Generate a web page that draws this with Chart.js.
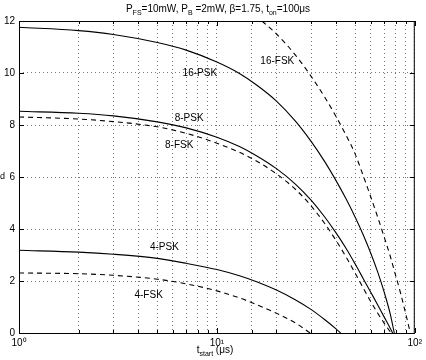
<!DOCTYPE html>
<html><head><meta charset="utf-8">
<script src="https://cdn.jsdelivr.net/npm/chart.js@4"></script>
<style>html,body{margin:0;padding:0;background:#fff}#wrap{width:426px;height:360px;position:relative}</style>
</head><body><div id="wrap"><canvas id="c"></canvas></div>
<script>
// ---- data ----
const xDecadeLabels = {1: '10⁰', 10: '10¹', 100: '10²'};
const yTickValues = [0, 2, 4, 6, 8, 10, 12];

const psk16T = [1, 2, 3, 5, 7, 10, 13, 16, 20, 25, 30, 35, 40, 45, 50, 55, 60, 65, 70, 75, 78.8];
const psk16V = [11.76, 11.63, 11.48, 11.17, 10.88, 10.42, 9.98, 9.52, 8.92, 8.14, 7.36, 6.6, 5.86, 5.15, 4.45, 3.76, 3.06, 2.34, 1.58, 0.76, 0];

const fsk16T = [16.9, 20, 25, 30, 35, 40, 45, 50, 55, 60, 65, 70, 75, 80, 85, 90, 95];
const fsk16V = [12, 11.5, 10.68, 9.86, 9.08, 8.33, 7.6, 6.88, 6.03, 5.22, 4.45, 3.7, 2.98, 2.22, 1.5, 0.74, 0];

const psk8T = [1, 2, 3, 5, 7, 10, 13, 16, 20, 25, 30, 35, 40, 45, 50, 55, 60, 65, 70, 74, 77.3];
const psk8V = [8.53, 8.45, 8.35, 8.12, 7.89, 7.53, 7.17, 6.8, 6.32, 5.72, 5.1, 4.47, 3.85, 3.25, 2.65, 2.08, 1.56, 1.08, 0.62, 0.28, 0];

const fsk8T = [1, 2, 3, 5, 7, 10, 13, 16, 20, 25, 30, 35, 40, 45, 50, 55, 60, 65, 70, 75.9];
const fsk8V = [8.31, 8.23, 8.13, 7.93, 7.68, 7.3, 6.95, 6.6, 6.12, 5.52, 4.88, 4.22, 3.56, 2.92, 2.3, 1.72, 1.2, 0.76, 0.38, 0];

const psk4T = [1, 2, 3, 5, 7, 10, 13, 16, 20, 25, 30, 35, 40, 42.2];
const psk4V = [3.18, 3.11, 3.03, 2.87, 2.68, 2.44, 2.2, 1.96, 1.65, 1.27, 0.9, 0.52, 0.16, 0];

const fsk4T = [1, 2, 3, 5, 7, 10, 13, 16, 20, 25, 29.6];
const fsk4V = [2.31, 2.28, 2.22, 2.07, 1.89, 1.62, 1.35, 1.08, 0.76, 0.38, 0];

const curveNames = ['16-PSK', '16-FSK', '8-PSK', '8-FSK', '4-PSK', '4-FSK'];
const curveLabelAt = [[8.2, 10.0], [20.2, 10.47], [7.24, 8.27], [6.45, 7.23], [5.43, 3.3], [4.52, 1.45]];

// ---- chart ----
const FONT = "'Liberation Sans', Arial, Helvetica, sans-serif";
function pts(t, v) { return t.map((x, i) => ({x: x, y: v[i]})); }
function ds(label, t, v, dashed) {
  return {label, data: pts(t, v), borderColor: '#000', borderWidth: 1.1,
    borderDash: dashed ? [5, 4] : [], pointRadius: 0, fill: false,
    cubicInterpolationMode: 'monotone'};
}

function richWidth(ctx, parts, size) {
  let w = 0;
  for (const p of parts) {
    ctx.font = ((p.sub || p.sup) ? Math.round(size * 0.72) : size) + 'px ' + FONT;
    w += ctx.measureText(p.t).width;
  }
  return w;
}
function drawRich(ctx, parts, cx, y, size) {
  let x = cx - richWidth(ctx, parts, size) / 2;
  ctx.textAlign = 'left'; ctx.textBaseline = 'alphabetic'; ctx.fillStyle = '#000';
  for (const p of parts) {
    const s = (p.sub || p.sup) ? Math.round(size * 0.72) : size;
    ctx.font = s + 'px ' + FONT;
    const dy = p.sub ? 3 : (p.sup ? -4 : 0);
    ctx.fillText(p.t, x, y + dy);
    x += ctx.measureText(p.t).width;
  }
}

const decor = {
  id: 'decor',
  afterDraw(chart) {
    const {ctx, chartArea: a, scales: {x, y}} = chart;
    ctx.save();
    // frame
    ctx.strokeStyle = '#000'; ctx.lineWidth = 1; ctx.setLineDash([]);
    ctx.strokeRect(a.left + 0.5, a.top + 0.5, a.right - a.left - 1, a.bottom - a.top);
    // inward ticks
    ctx.beginPath();
    for (const v of yTickValues) {
      const py = Math.round(y.getPixelForValue(v)) + 0.5;
      ctx.moveTo(a.left, py); ctx.lineTo(a.left + 5, py);
      ctx.moveTo(a.right, py); ctx.lineTo(a.right - 5, py);
    }
    for (const t of x.ticks) {
      const px = Math.round(x.getPixelForValue(t.value)) + 0.5;
      const len = xDecadeLabels[t.value] ? 5 : 3;
      ctx.moveTo(px, a.bottom); ctx.lineTo(px, a.bottom - len);
      ctx.moveTo(px, a.top); ctx.lineTo(px, a.top + len);
    }
    ctx.stroke();
    // curve labels
    ctx.font = '10px ' + FONT; ctx.fillStyle = '#000';
    ctx.textAlign = 'center'; ctx.textBaseline = 'middle';
    curveNames.forEach((n, i) => {
      ctx.fillText(n, x.getPixelForValue(curveLabelAt[i][0]), y.getPixelForValue(curveLabelAt[i][1]));
    });
    // title
    drawRich(ctx, [{t: 'P'}, {t: 'FS', sub: 1}, {t: '=10mW, P'}, {t: 'B', sub: 1},
      {t: ' =2mW, β=1.75, t'}, {t: 'on', sub: 1}, {t: '=100μs'}], 218, 12, 10);
    // x axis title
    drawRich(ctx, [{t: 't'}, {t: 'start', sub: 1}, {t: ' (μs)'}], 215, 353, 10);
    // clipped y label
    ctx.font = '9px ' + FONT; ctx.textAlign = 'left'; ctx.textBaseline = 'middle';
    ctx.fillText('d', 0, 177);
    ctx.restore();
  }
};

new Chart(document.getElementById('c'), {
  type: 'line',
  data: {datasets: [
    ds('16-PSK', psk16T, psk16V, false),
    ds('16-FSK', fsk16T, fsk16V, true),
    ds('8-PSK', psk8T, psk8V, false),
    ds('8-FSK', fsk8T, fsk8V, true),
    ds('4-PSK', psk4T, psk4V, false),
    ds('4-FSK', fsk4T, fsk4V, true)
  ]},
  options: {
    responsive: true, maintainAspectRatio: false, animation: false,
    layout: {padding: {top: 21, right: 7, left: 0, bottom: 0}},
    plugins: {legend: {display: false}, title: {display: false}, tooltip: {enabled: false}},
    scales: {
      x: {
        type: 'logarithmic', min: 1, max: 100,
        afterFit(s) { s.height = 27; },
        grid: {color: '#777', lineWidth: 1, drawTicks: false},
        border: {display: false, dash: [1, 3]},
        ticks: {autoSkip: false, maxRotation: 0, padding: 4, color: '#000',
          font: {family: FONT, size: 10},
          callback(v) { return xDecadeLabels[v] || ''; }}
      },
      y: {
        min: 0, max: 12,
        afterFit(s) { s.width = 19; },
        afterBuildTicks(s) { s.ticks = yTickValues.map(v => ({value: v})); },
        grid: {color: '#777', lineWidth: 1, drawTicks: false},
        border: {display: false, dash: [1, 3]},
        ticks: {padding: 4, color: '#000', font: {family: FONT, size: 10}}
      }
    }
  },
  plugins: [decor]
});
</script></body></html>
